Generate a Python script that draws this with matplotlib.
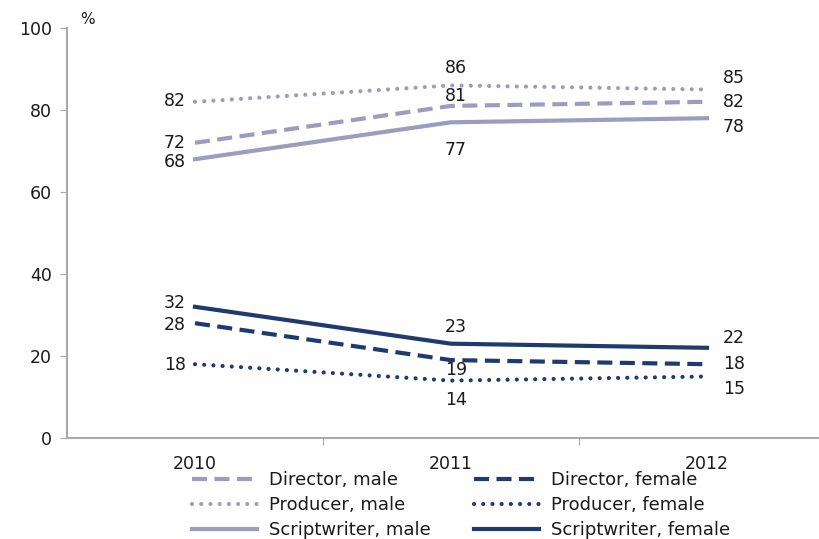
import matplotlib
matplotlib.use("Agg")
import matplotlib.pyplot as plt

years = ["2010", "2011", "2012"]
director_male = [72, 81, 82]
director_female = [28, 19, 18]
producer_male = [82, 86, 85]
producer_female = [18, 14, 15]
script_male = [68, 77, 78]
script_female = [32, 23, 22]

light = "#9d9cbf"
dark = "#1e3a6e"
plt.rcParams['font.family'] = ['DejaVu Sans']

fig = plt.figure(figsize=(8.19, 5.39), dpi=100)
W, H = 819, 539
ax = fig.add_axes([67/W, 1-438/H, (819-67)/W, (438-28)/H])
x = list(range(len(years)))

dash = (0, (3.6, 1.8))
dot = (0, (0.01, 2.2))
lw = 3.0
series = [
    ("Director, male", director_male, light, dash),
    ("Producer, male", producer_male, light, dot),
    ("Scriptwriter, male", script_male, light, '-'),
    ("Director, female", director_female, dark, dash),
    ("Producer, female", producer_female, dark, dot),
    ("Scriptwriter, female", script_female, dark, '-'),
]
handles = []
for name, vals, col, ls in series:
    l, = ax.plot(x, vals, color=col, ls=ls, lw=lw,
                 dash_capstyle='round' if ls == dot else 'butt', label=name)
    handles.append(l)

ax.set_xlim(-0.5, -0.5 + 752/256)
ax.set_ylim(0, 100)
ax.set_yticks(range(0, 101, 20))
ax.set_xticks([0.5, 1.5])
ax.set_xticklabels([])
ax.tick_params(axis='x', length=5, color='#aaaaaa', direction='out')
ax.tick_params(axis='y', length=5, color='#aaaaaa', labelsize=12.5, pad=6, labelcolor='#1a1a1a')
for s in ['top', 'right']:
    ax.spines[s].set_visible(False)
for s in ['left', 'bottom']:
    ax.spines[s].set_color('#aaaaaa')
    ax.spines[s].set_linewidth(1.5)

for i, yr in enumerate(years):
    ax.text(i, -6.3, yr, ha='center', va='center', fontsize=12.5, color='#1a1a1a')

fs = 12.5
def lab(xp, v, dy, ha):
    ax.text(xp, v + dy, str(v), ha=ha, va='center', fontsize=fs, color='#1a1a1a')

# 2010 labels (left of points)
xl = -0.035
lab(xl, producer_male[0], 0.2, 'right')
lab(xl, director_male[0], 0.0, 'right')
lab(xl, script_male[0], -0.7, 'right')
lab(xl, script_female[0], 0.9, 'right')
lab(xl, director_female[0], -0.4, 'right')
lab(xl, producer_female[0], -0.2, 'right')
# 2011 labels
xm = 1.02
lab(xm, producer_male[1], 4.2, 'center')
lab(xm, director_male[1], 2.4, 'center')
lab(xm, script_male[1], -6.8, 'center')
lab(xm, script_female[1], 4.1, 'center')
lab(xm, director_female[1], -2.4, 'center')
lab(xm, producer_female[1], -4.7, 'center')
# 2012 labels (right of points)
xr = 2.062
lab(xr, producer_male[2], 2.8, 'left')
lab(xr, director_male[2], 0.0, 'left')
lab(xr, script_male[2], -2.1, 'left')
lab(xr, script_female[2], 2.4, 'left')
lab(xr, director_female[2], 0.0, 'left')
lab(xr, producer_female[2], -3.0, 'left')

fig.text(80/W, 1-20/H, "%", ha='left', va='center', fontsize=11, color='#1a1a1a')

leg = fig.legend(handles=handles, ncol=2, loc='upper left', bbox_to_anchor=(192/W, 1-471/H),
                 frameon=False, fontsize=13, handlelength=3.6, handletextpad=0.65,
                 columnspacing=2.4, labelspacing=0.4, borderaxespad=0, borderpad=0)
for t in leg.get_texts():
    t.set_color('#1a1a1a')

fig.savefig("out.png", dpi=100)
